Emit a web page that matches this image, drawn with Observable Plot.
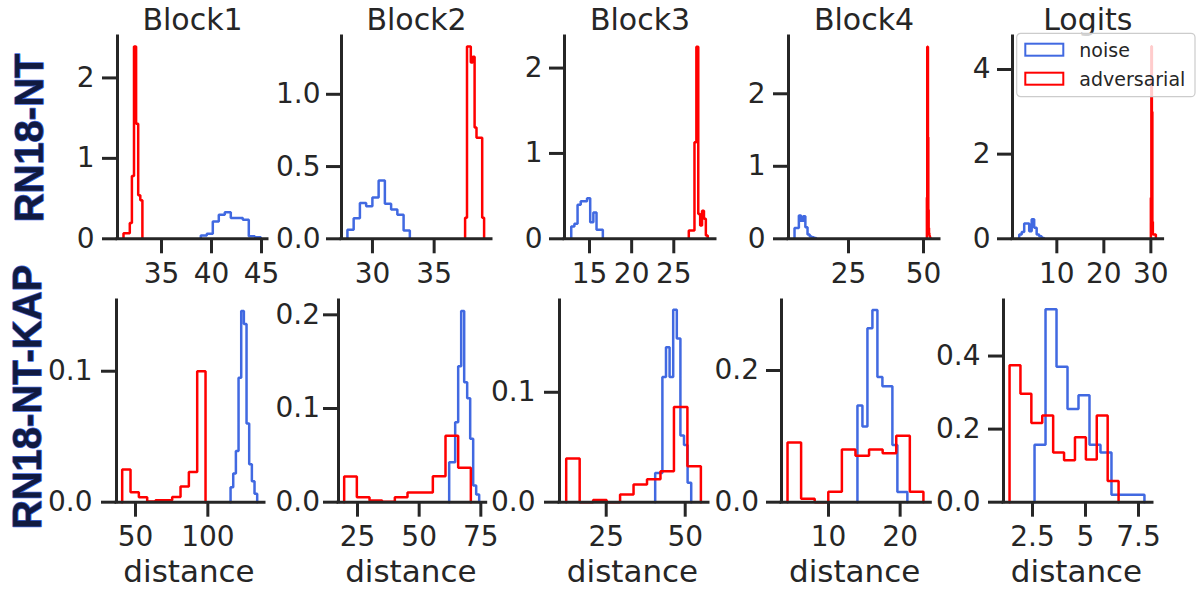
<!DOCTYPE html>
<html><head><meta charset="utf-8">
<script src="https://cdn.jsdelivr.net/npm/d3@7"></script>
<script src="https://cdn.jsdelivr.net/npm/@observablehq/plot@0.6"></script>
<style>
html,body{margin:0;padding:0;background:#fff;}
#chart{position:relative;width:1198px;height:592px;overflow:hidden;background:#fff;font-family:"DejaVu Sans",sans-serif;}
#chart svg{position:absolute;max-width:none !important;background:transparent !important;overflow:visible !important;}
</style></head><body><div id="chart"></div>
<script>
// ---------- data ----------
const colTitles = ["Block1", "Block2", "Block3", "Block4", "Logits"];
const rowLabels = ["RN18-NT", "RN18-NT-KAP"];
const seriesNames = ["noise", "adversarial"];
const xLabel = "distance";

// RN18-NT row: histogram bin range [first edge, last edge] and densities per bin
const ntNoiseRange = [[38.93, 44.93], [27.97, 33.03], [12.83, 16.58], [7.01, 14.23], [2.0, 7.3]];
const ntNoiseDensity = [
  [0.041, 0.062, 0.215, 0.298, 0.331, 0.26, 0.26, 0.236, 0.033, 0.02],
  [0.062, 0.143, 0.247, 0.226, 0.286, 0.403, 0.242, 0.203, 0.166, 0.058],
  [0.144, 0.175, 0.40, 0.44, 0.44, 0.476, 0.195, 0.308, 0.105, 0.105],
  [0.15, 0.15, 0.32, 0.25, 0.31, 0.16, 0.06, 0.03, 0.02, 0.01],
  [0.10, 0.16, 0.36, 0.36, 0.18, 0.46, 0.26, 0.10, 0.06, 0.02]
];
const ntAdvRange = [[31.2, 33.09], [37.51, 39.05], [26.78, 29.03], [51.13, 52.3], [30.0, 31.06]];
const ntAdvDensity = [
  [0.07, 0.07, 0.07, 0.195, 0.78, 2.39, 1.43, 0.54, 0.48],
  [0.145, 1.33, 1.33, 1.22, 1.26, 0.77, 0.70, 0.70, 0.70, 0.145],
  [0.097, 0.097, 0.097, 1.13, 2.25, 0.29, 0.156, 0.33, 0.234, 0.04],
  [0.57, 2.65, 2.65, 1.4, 0.4, 0.15, 0.08, 0.05, 0.03, 0.02],
  [0.97, 4.55, 3.0, 0.4, 0.1, 0.1, 0.1, 0.1, 0.1, 0.1]
];

// RN18-NT-KAP row
const kapNoiseRange = [[115.7, 134.1], [62.17, 74.33], [40.5, 51.9], [14.04, 21.01], [2.596, 7.78]];
const kapNoiseDensity = [
  [0.0115, 0.022, 0.039, 0.095, 0.146, 0.136, 0.060, 0.029, 0.016, 0.0064],
  [0.0427, 0.0427, 0.0854, 0.145, 0.204, 0.128, 0.111, 0.0676, 0.0178, 0.0082],
  [0.0266, 0.0266, 0.114, 0.141, 0.114, 0.175, 0.149, 0.0606, 0.052, 0.0177],
  [0.147, 0.115, 0.264, 0.292, 0.19, 0.176, 0.176, 0.0867, 0.0153, 0.0153],
  [0.157, 0.528, 0.371, 0.255, 0.293, 0.157, 0.136, 0.0203, 0.0203, 0.0203]
];
const kapAdvRange = [[40.8, 98.4], [19.6, 70.95], [12.34, 54.96], [4.28, 23.25], [1.417, 6.56]];
const kapAdvDensity = [
  [0.025, 0.0075, 0.0038, 0.0005, 0.0015, 0.0015, 0.004, 0.012, 0.023, 0.1],
  [0.0274, 0.0053, 0.0018, 0.0005, 0.0053, 0.0103, 0.0103, 0.0278, 0.0708, 0.0367],
  [0.0398, 0, 0.0021, 0, 0.007, 0.0162, 0.0208, 0.0281, 0.0865, 0.0327],
  [0.0908, 0.0051, 0, 0.0158, 0.080, 0.0704, 0.080, 0.0745, 0.101, 0.0158],
  [0.375, 0.297, 0.217, 0.237, 0.136, 0.115, 0.178, 0.117, 0.237, 0.058]
];

// ticks and axis limits
const ntXTicks = [[35, 40, 45], [30, 35], [15, 20, 25], [25, 50], [10, 20, 30]];
const ntYTicks = [[0, 1, 2], [0, 0.5, 1.0], [0, 1, 2], [0, 1, 2], [0, 2, 4]];
const kapXTicks = [[50, 100], [25, 50, 75], [25, 50], [10, 20], [2.5, 5, 7.5]];
const kapYTicks = [[0, 0.1], [0, 0.1, 0.2], [0, 0.1], [0, 0.2], [0, 0.2, 0.4]];
const ntYDecimals = [0, 1, 0, 0, 0];
const kapYDecimals = [1, 1, 1, 1, 1];
const ntXDomain = [[30.6, 45.6], [27.49, 39.65], [12.03, 29.95], [5, 55.33], [0.57, 32.6]];
const ntYMax = [2.515, 1.40, 2.37, 2.79, 4.78];
const kapXDomain = [[36.87, 139.15], [17.3, 77.17], [10.22, 57.37], [3.44, 24.28], [1.132, 8.16]];
const kapYMax = [0.154, 0.2153, 0.1835, 0.3063, 0.552];

// ---------- layout & style ----------
const rowTop = [36, 300], rowBottom = [238.3, 501.7];
const panelLeft = [[116.7, 340.7, 564, 788.3, 1011.7], [116, 338.3, 559.3, 780.7, 1003.3]];
const panelRight = [[266.7, 490.7, 715, 939.3, 1162.3], [264, 486, 708.3, 930, 1152.3]];
const yTickPad = [[8, 6, 7, 8, 7], [9, 3.5, 9, 7.5, 8]];
const M = {l: 110, r: 40, t: 45, b: 95};
const ink = "#262626";
const colors = ["#4169e1", "#ff0000"];
const font = "DejaVu Sans, sans-serif";

function stepOutline(range, dens) {
  const n = dens.length, w = (range[1] - range[0]) / n;
  const pts = [{x: range[0], y: 0}];
  dens.forEach((h, i) => {
    pts.push({x: range[0] + i * w, y: h}, {x: range[0] + (i + 1) * w, y: h});
  });
  pts.push({x: range[1], y: 0});
  return pts;
}

const chart = document.getElementById("chart");

function makePanel(row, col) {
  const L = panelLeft[row][col], R = panelRight[row][col], T = rowTop[row], B = rowBottom[row];
  const nR = row === 0 ? ntNoiseRange[col] : kapNoiseRange[col];
  const nD = row === 0 ? ntNoiseDensity[col] : kapNoiseDensity[col];
  const aR = row === 0 ? ntAdvRange[col] : kapAdvRange[col];
  const aD = row === 0 ? ntAdvDensity[col] : kapAdvDensity[col];
  const xd = row === 0 ? ntXDomain[col] : kapXDomain[col];
  const ym = row === 0 ? ntYMax[col] : kapYMax[col];
  const xt = row === 0 ? ntXTicks[col] : kapXTicks[col];
  const yt = row === 0 ? ntYTicks[col] : kapYTicks[col];
  const dec = row === 0 ? ntYDecimals[col] : kapYDecimals[col];

  const marks = [
    Plot.line(stepOutline(nR, nD), {x: "x", y: "y", stroke: colors[0], strokeWidth: 2.5, strokeLinejoin: "miter"}),
    Plot.line(stepOutline(aR, aD), {x: "x", y: "y", stroke: colors[1], strokeWidth: 2.5, strokeLinejoin: "miter"}),
    Plot.ruleY([0], {stroke: ink, strokeWidth: 3, strokeLinecap: "square"}),
    Plot.ruleX([xd[0]], {stroke: ink, strokeWidth: 3, strokeLinecap: "square"}),
    Plot.axisX({ticks: xt, tickSize: 15, tickPadding: 9, fontSize: 28, strokeWidth: 3, label: null, tickFormat: d => String(d)}),
    Plot.axisY({ticks: yt, tickSize: 15, tickPadding: yTickPad[row][col], fontSize: 28, strokeWidth: 3, label: null,
      tickFormat: d => dec ? d.toFixed(1) : String(d)})
  ];
  if (row === 0) {
    marks.push(Plot.text([colTitles[col]], {text: d => d, frameAnchor: "top", lineAnchor: "bottom", textAnchor: "middle", dy: -6.7, fontSize: 30}));
  } else {
    marks.push(Plot.text([xLabel], {text: d => d, frameAnchor: "bottom", lineAnchor: "bottom", textAnchor: "middle", dy: 80.3, dx: -1.5, fontSize: 31}));
  }
  if (col === 0) {
    marks.push(Plot.text([rowLabels[row]], {
      text: d => d, frameAnchor: "left", rotate: -90, textAnchor: "middle", lineAnchor: "middle",
      dx: row === 0 ? -87.2 : -88.5, dy: row === 0 ? 0.3 : -4.35,
      fontSize: 40, fontWeight: "bold", fontFamily: "Liberation Sans, Arial, sans-serif",
      fill: "#111a40", stroke: "#4169e1", strokeWidth: 1.4
    }));
  }

  const svg = Plot.plot({
    width: R - L + M.l + M.r,
    height: B - T + M.t + M.b,
    marginLeft: M.l, marginRight: M.r, marginTop: M.t, marginBottom: M.b,
    x: {domain: xd},
    y: {domain: [0, ym]},
    style: {background: "transparent", overflow: "visible", fontFamily: font, color: ink},
    marks
  });
  svg.style.left = (L - M.l) + "px";
  svg.style.top = (T - M.t) + "px";
  chart.appendChild(svg);
}

for (let r = 0; r < 2; r++) for (let c = 0; c < 5; c++) makePanel(r, c);

// legend
const ox = 1014, oy = 31;
const leg = d3.create("svg").attr("width", 184).attr("height", 70)
  .style("left", ox + "px").style("top", oy + "px");
leg.append("rect").attr("x", 1016.7 - ox).attr("y", 33.3 - oy).attr("width", 178.3).attr("height", 63.4)
  .attr("rx", 4).attr("fill", "rgba(255,255,255,0.8)").attr("stroke", "#cccccc").attr("stroke-width", 1.2);
seriesNames.forEach((name, i) => {
  const py = (i === 0 ? 42.7 : 71.7) - oy;
  leg.append("rect").attr("x", 1024.3 - ox + 1).attr("y", py + 1).attr("width", 38).attr("height", 12)
    .attr("fill", "none").attr("stroke", colors[i]).attr("stroke-width", 2);
  leg.append("text").attr("x", 1079.3 - ox).attr("y", (i === 0 ? 57 : 85.7) - oy)
    .attr("font-family", font).attr("font-size", 19).attr("fill", ink).text(name);
});
chart.appendChild(leg.node());
</script></body></html>
